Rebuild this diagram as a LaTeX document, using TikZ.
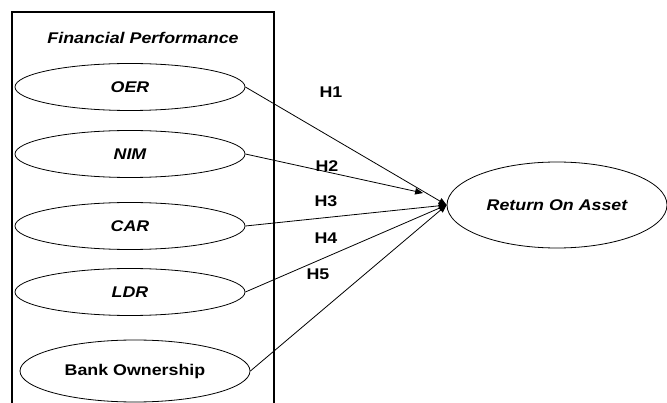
\documentclass[tikz,border=0pt]{standalone}
\usepackage{fontspec}
\setmainfont{Liberation Sans}[FakeStretch=1.15]
\usetikzlibrary{arrows,positioning,shapes.geometric}

\tikzset{
  var/.style={draw, ellipse, line width=0.8pt, inner sep=0pt,
    minimum width=230pt, minimum height=47pt,
    font=\fontsize{15.5}{18}\selectfont\bfseries\itshape},
  hyp/.style={font=\fontsize{15.5}{18}\selectfont\bfseries},
  path/.style={-triangle 45, line width=0.8pt}
}

\begin{document}
\begin{tikzpicture}[x=1pt, y=-1pt]
      \useasboundingbox (0,0) rectangle (667,403);
      % the frame round the financial ratios
      \draw[line width=2.6pt] (12,420) -- (12,12) -- (274,12) -- (274,420);
      \node[font=\fontsize{15.5}{18}\selectfont\bfseries\itshape] (fp) at (143,38) {Financial Performance};

      \node[var] (oer) at (130,87) {OER};
      \node[var] (nim) at (130,154) {NIM};
      \node[var] (car) at (130,226) {CAR};
      \node[var] (ldr) at (130,292) {LDR};
      \node[var, font=\fontsize{15.5}{18}\selectfont\bfseries, minimum height=62pt] (bank) at (135,371) {Bank Ownership};

      \node[var, minimum width=220pt, minimum height=86pt] (roa) at (557,205) {Return On Asset};
      \coordinate (h2end) at (423,193);

      \draw[path] (oer.east) -- (roa.west);
      \draw[path] (nim.east) -- (h2end);
      \draw[path] (car.east) -- (roa.west);
      \draw[path] (ldr.east) -- (roa.west);
      \draw[path] (bank.east) -- (roa.west);

      \node[hyp] (h1) at (331,92) {H1};
      \node[hyp] (h2) at (327,166) {H2};
      \node[hyp] (h3) at (326,201) {H3};
      \node[hyp] (h4) at (326,238) {H4};
      \node[hyp] (h5) at (318,274) {H5};
\end{tikzpicture}
\end{document}
